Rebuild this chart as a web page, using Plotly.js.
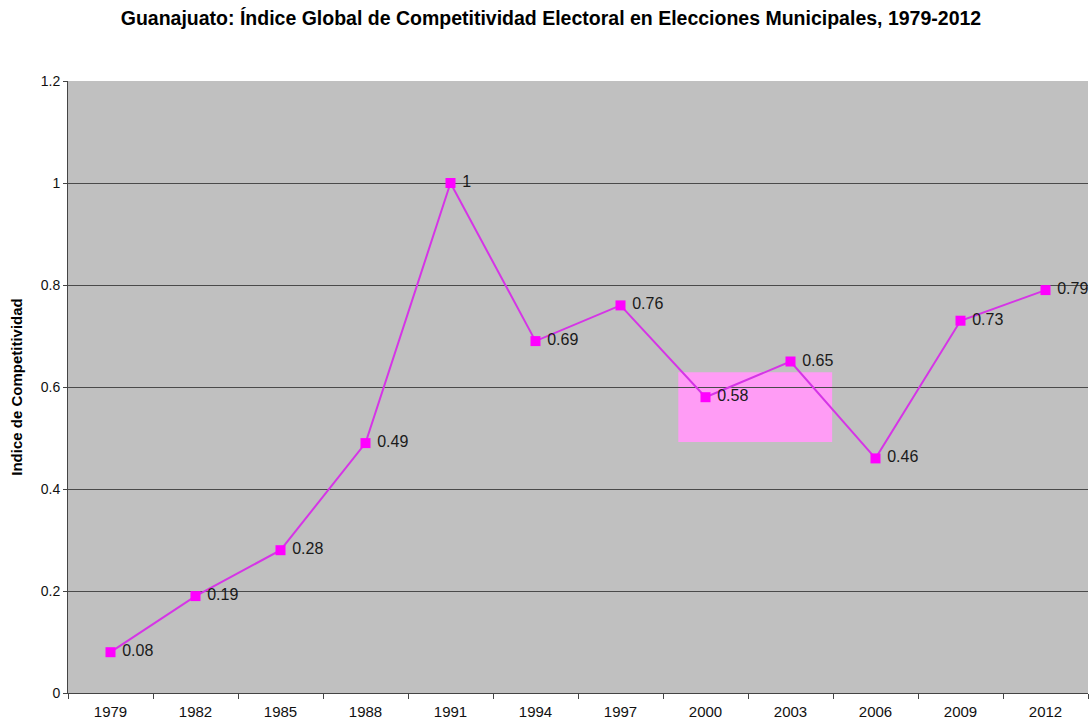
<!DOCTYPE html>
<html><head><meta charset="utf-8">
<script src="https://cdn.plot.ly/plotly-3.0.1.min.js"></script>
<style>html,body{margin:0;padding:0;background:#fff;}#chart{width:1091px;height:723px;}</style>
</head><body><div id="chart"></div>
<script>
const years = ['1979','1982','1985','1988','1991','1994','1997','2000','2003','2006','2009','2012'];
const indice = [0.08, 0.19, 0.28, 0.49, 1, 0.69, 0.76, 0.58, 0.65, 0.46, 0.73, 0.79];
const labels = ['0.08','0.19','0.28','0.49','1','0.69','0.76','0.58','0.65','0.46','0.73','0.79'];
const yTicks = [0, 0.2, 0.4, 0.6, 0.8, 1, 1.2];
const yTickText = ['0','0.2','0.4','0.6','0.8','1','1.2'];

const trace = {
  x: years, y: indice, type: 'scatter', mode: 'lines+markers+text',
  text: labels.map(s => ' ' + s), textposition: 'middle right',
  textfont: {family: 'Liberation Sans, Arial, sans-serif', size: 16, color: '#1a1a1a'},
  line: {color: '#d535e6', width: 2},
  marker: {symbol: 'square', size: 10, color: '#ff00ff'},
  cliponaxis: false, hoverinfo: 'x+y'
};

const layout = {
  width: 1091, height: 723,
  margin: {l: 68, r: 3, t: 81, b: 30},
  paper_bgcolor: '#ffffff', plot_bgcolor: '#c0c0c0',
  showlegend: false,
  title: {text: '<b>Guanajuato: Índice Global de Competitividad Electoral en Elecciones Municipales, 1979-2012</b>',
    font: {family: 'Liberation Sans, Arial, sans-serif', size: 19.5, color: '#000'},
    x: 0.505, xanchor: 'center', y: 0.975, yanchor: 'middle'},
  xaxis: {type: 'category', range: [-0.5, 11.5], tickson: 'boundaries', ticks: 'outside', ticklen: 5,
    tickcolor: '#444', showgrid: false, showline: true, linecolor: '#444', linewidth: 1,
    ticklabelstandoff: 5,
    tickfont: {family: 'Liberation Sans, Arial, sans-serif', size: 15, color: '#111'}, fixedrange: true},
  yaxis: {range: [0, 1.2], tickvals: yTicks, ticktext: yTickText, ticks: 'outside', ticklen: 4,
    tickcolor: '#444', showgrid: true, gridcolor: '#4a4a4a', gridwidth: 1, zeroline: false,
    showline: true, linecolor: '#444', linewidth: 1,
    tickfont: {family: 'Liberation Sans, Arial, sans-serif', size: 14, color: '#111'},
    title: {text: '<b>Indice de Competitividad</b>', standoff: 14,
      font: {family: 'Liberation Sans, Arial, sans-serif', size: 15, color: '#000'}}, fixedrange: true},
  shapes: [{type: 'rect', xref: 'x', yref: 'y', x0: 6.68, x1: 8.49, y0: 0.492, y1: 0.629,
    fillcolor: '#ff9cf5', line: {width: 0}, layer: 'below'}]
};
Plotly.newPlot('chart', [trace], layout, {displayModeBar: false, staticPlot: true});
</script></body></html>
